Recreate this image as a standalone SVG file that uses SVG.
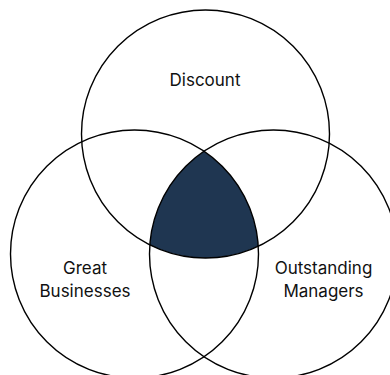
<svg xmlns="http://www.w3.org/2000/svg" width="390" height="375" viewBox="0 0 390 375">
<style>
.c{fill:none;stroke:#000;stroke-width:1.4}
.t{font-family:Inter,"Liberation Sans",sans-serif;font-size:17px;fill:#111;text-anchor:middle}
</style>
<defs>
<clipPath id="clipL"><circle cx="134.5" cy="254" r="124"/></clipPath>
<clipPath id="clipR"><circle cx="273.5" cy="254" r="124" clip-path="url(#clipL)"/></clipPath>
</defs>
<rect width="390" height="375" fill="#fff"/>
<g id="intersection">
<circle cx="205.5" cy="134" r="124" fill="#1f3651" clip-path="url(#clipR)"/>
</g>
<g id="discount">
<circle class="c" cx="205.5" cy="134" r="124"/>
<text class="t" x="205" y="86">Discount</text>
</g>
<g id="great-businesses">
<circle class="c" cx="134.5" cy="254" r="124"/>
<text class="t" x="85" y="274">Great</text>
<text class="t" x="85" y="297">Businesses</text>
</g>
<g id="outstanding-managers">
<circle class="c" cx="273.5" cy="254" r="124"/>
<text class="t" x="323.5" y="274">Outstanding</text>
<text class="t" x="323.5" y="297">Managers</text>
</g>
<g id="connectors"/>
</svg>
